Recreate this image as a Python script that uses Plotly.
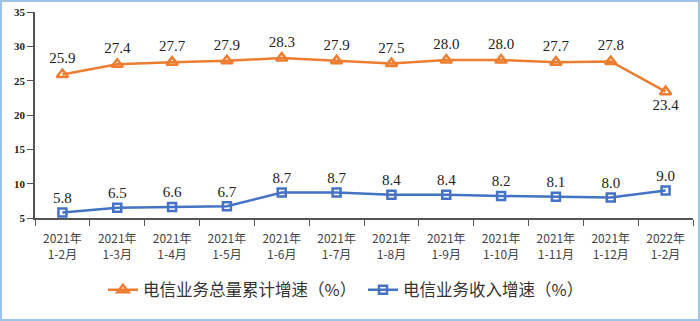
import plotly.graph_objects as go

categories = ["2021年<br>1-2月", "2021年<br>1-3月", "2021年<br>1-4月", "2021年<br>1-5月",
              "2021年<br>1-6月", "2021年<br>1-7月", "2021年<br>1-8月", "2021年<br>1-9月",
              "2021年<br>1-10月", "2021年<br>1-11月", "2021年<br>1-12月", "2022年<br>1-2月"]
total_growth = [25.9, 27.4, 27.7, 27.9, 28.3, 27.9, 27.5, 28.0, 28.0, 27.7, 27.8, 23.4]
revenue_growth = [5.8, 6.5, 6.6, 6.7, 8.7, 8.7, 8.4, 8.4, 8.2, 8.1, 8.0, 9.0]
name_total = "电信业务总量累计增速（%）"
name_rev = "电信业务收入增速（%）"

ORANGE = "#ED7D31"
BLUE = "#4472C4"
W, H = 700, 321
ML, MR, MT, MB = 35, 7, 12, 103

total_pos = ["top center"] * (len(total_growth) - 1) + ["bottom center"]

fig = go.Figure()
fig.add_trace(go.Scatter(
    x=categories, y=total_growth, name=name_total, mode="lines+markers+text",
    line=dict(color=ORANGE, width=2.5),
    marker=dict(symbol="triangle-up-open", size=10, color=ORANGE, line=dict(width=2.5, color=ORANGE)),
    text=[f"{v:.1f}" for v in total_growth], textposition=total_pos,
    textfont=dict(family="Liberation Serif, DejaVu Serif, serif", size=15, color="#222"),
    cliponaxis=False,
))
fig.add_trace(go.Scatter(
    x=categories, y=revenue_growth, name=name_rev, mode="lines+markers+text",
    line=dict(color=BLUE, width=2.5),
    marker=dict(symbol="square-open", size=8, color=BLUE, line=dict(width=2.5, color=BLUE)),
    text=[f"{v:.1f}" for v in revenue_growth], textposition="top center",
    textfont=dict(family="Liberation Serif, DejaVu Serif, serif", size=15, color="#222"),
    cliponaxis=False,
))

pw = W - ML - MR
ph = H - MT - MB
fig.add_shape(type="rect", xref="paper", yref="paper",
              x0=(1 - ML) / pw, x1=(W - 1 - ML) / pw,
              y0=(MT + ph - (H - 1)) / ph, y1=(MT + ph - 1) / ph,
              line=dict(color="#9DC3E6", width=2), fillcolor="rgba(0,0,0,0)", layer="above")

fig.update_layout(
    width=W, height=H, margin=dict(l=ML, r=MR, t=MT, b=MB),
    paper_bgcolor="white", plot_bgcolor="white",
    showlegend=True,
    legend=dict(orientation="h", x=(103 - ML) / pw, xanchor="left", y=-0.35, yanchor="middle",
                font=dict(family="Noto Sans CJK SC", size=16.5, color="#333"),
                itemwidth=30, entrywidthmode="pixels", entrywidth=215, traceorder="normal"),
    xaxis=dict(type="category", showline=True, linecolor="#555", linewidth=1.5,
               ticks="outside", tickson="boundaries", ticklen=6, tickcolor="#555",
               ticklabelstandoff=9,
               tickfont=dict(family="Noto Sans CJK SC", size=12, color="#444"),
               showgrid=False, zeroline=False, range=[-0.5, len(categories) - 0.5]),
    yaxis=dict(range=[5, 35], dtick=5, showline=True, linecolor="#555", linewidth=1.5,
               ticks="outside", ticklen=6, tickcolor="#555", showgrid=False, zeroline=False,
               tickfont=dict(family="Liberation Serif, serif", size=11, color="#222", weight="bold")),
)

fig.write_html("out.html")
